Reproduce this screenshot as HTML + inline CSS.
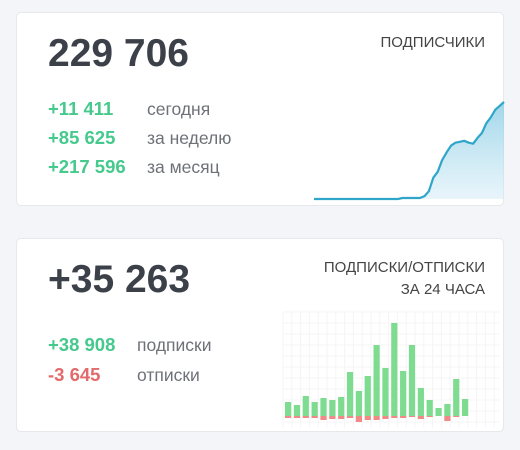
<!DOCTYPE html>
<html><head><meta charset="utf-8"><style>
body{margin:0;width:520px;height:450px;background:#f4f5f8;position:relative;overflow:hidden;font-family:"Liberation Sans","DejaVu Sans",sans-serif}
.card{position:absolute;left:16px;width:488px;background:#fff;border:1px solid #e6e8ec;border-radius:5px;box-sizing:border-box}
.t{position:absolute;white-space:nowrap}
.big{font-size:39px;font-weight:bold;color:#3b4049}
.g{color:#45c98c;font-size:18.5px;font-weight:bold}
.r{color:#e36a6a;font-size:18.5px;font-weight:bold}
.l{color:#6e7278;font-size:17.5px}
.h{color:#444;font-size:15px;text-align:right;right:18px}
</style></head><body>
<div class="card" style="top:12px;height:194px">
 <div class="t big" style="left:31px;top:19px">229 706</div>
 <div class="t h" style="top:21px">ПОДПИСЧИКИ</div>
 <div class="t g" style="left:31px;top:85px">+11 411</div>
 <div class="t l" style="left:130px;top:86px">сегодня</div>
 <div class="t g" style="left:31px;top:114px">+85 625</div>
 <div class="t l" style="left:130px;top:115px">за неделю</div>
 <div class="t g" style="left:31px;top:143px">+217 596</div>
 <div class="t l" style="left:130px;top:144px">за месяц</div>
</div>
<div class="card" style="top:238px;height:194px">
 <div class="t big" style="left:31px;top:19px">+35 263</div>
 <div class="t h" style="top:20px">ПОДПИСКИ/ОТПИСКИ</div>
 <div class="t h" style="top:42px">ЗА 24 ЧАСА</div>
 <div class="t g" style="left:31px;top:95px">+38 908</div>
 <div class="t l" style="left:120px;top:96px">подписки</div>
 <div class="t r" style="left:31px;top:125px">-3 645</div>
 <div class="t l" style="left:120px;top:126px">отписки</div>
</div>
<svg id="line" style="position:absolute;left:0;top:0" width="520" height="450">
 <defs><linearGradient id="gr" x1="0" y1="0" x2="0" y2="1"><stop offset="0" stop-color="#8fcfe6" stop-opacity="0.85"/><stop offset="1" stop-color="#d8eef7" stop-opacity="0.6"/></linearGradient></defs>
</svg>
<svg id="bars" style="position:absolute;left:0;top:0" width="520" height="450"></svg>
<script>
const lineVals=[0,0,0,0,0,0,0,0,0,0,0,0,0,0,0,0,0,0,0,0,1,1,1,1,1,3,8,22,28,40,48,55,58,59,60,58,57,63,68,78,84,92,96,100];
const subs=[14,11,20,14,18,16,19,44,25,40,71,48,93,45,71,28,16,8,12,37,17];
const unsubs=[2,2,2,2,4,3,3,2,6,4,4,3,2,2,1,3,1,0,5,1,0];
const NS='http://www.w3.org/2000/svg';
function mk(t,a,p){const e=document.createElementNS(NS,t);for(const k in a)e.setAttribute(k,a[k]);p.appendChild(e);return e;}
const lx0=314,lx1=504,ly0=199,ly1=102;
const lxs=i=>lx0+(lx1-lx0)*i/(lineVals.length-1);
const lys=v=>ly0-(ly0-ly1)*v/100;
const ls=document.getElementById('line');
let pts=lineVals.map((v,i)=>lxs(i).toFixed(1)+','+lys(v).toFixed(1));
const area=mk('path',{d:'M'+lx0+','+ly0+' L'+pts.join(' L')+' L'+lx1+','+ly0+'Z',fill:'url(#gr)'},ls);


const ln=mk('polyline',{points:pts.join(' '),fill:'none',stroke:'#2fa6c9','stroke-width':2.2,'stroke-linejoin':'round'},ls);


const bs=document.getElementById('bars');
const gx0=283,gx1=500,gy0=312,gy1=428;
for(let x=gx0;x<=gx1;x+=8.8){const l=mk('line',{x1:x,x2:x,y1:gy0,y2:gy1,stroke:'#f5f5f7','stroke-width':1},bs);}
for(let y=gy0;y<=gy1;y+=11){const l=mk('line',{x1:gx0,x2:gx1,y1:y,y2:y,stroke:'#f5f5f7','stroke-width':1},bs);}
const base=416,bx0=285,step=8.85,bw=6.2;
const by=v=>v;
subs.forEach((v,i)=>{
 const b=mk('rect',{x:bx0+i*step,y:base-by(v),width:bw,height:by(v),fill:'#7ddc8f'},bs);
 
 
});
unsubs.forEach((v,i)=>{
 const b=mk('rect',{x:bx0+i*step,y:base,width:bw,height:by(v),fill:'#ef8a86'},bs);
 
 
});
</script>
</body></html>
